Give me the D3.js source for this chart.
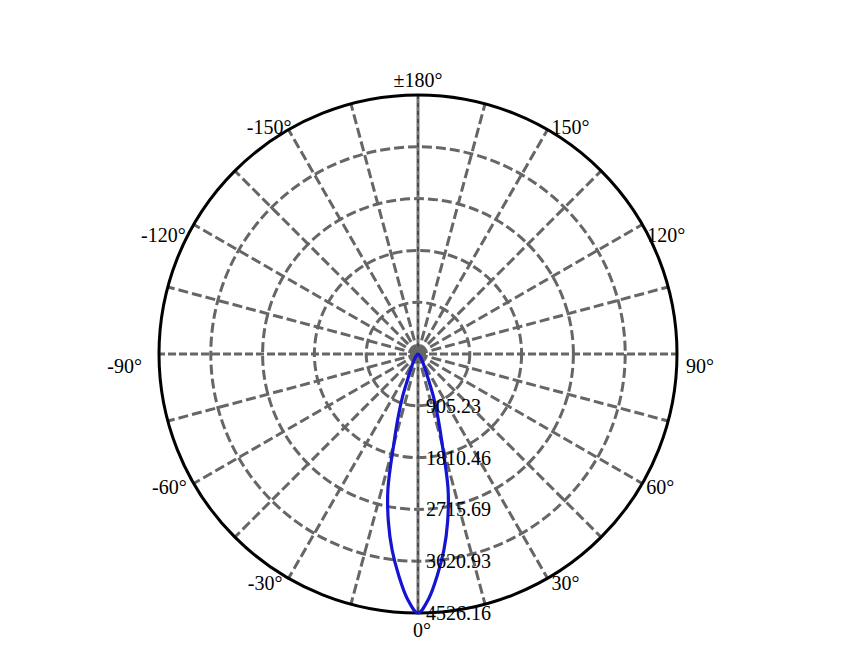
<!DOCTYPE html>
<html lang="en">
<head>
  <meta charset="utf-8">
  <title>Polar Intensity</title>
  <style>
    body { margin: 0; background: #fff; }
    svg text { font-family: "Liberation Serif", "DejaVu Serif", serif; font-size: 20px; fill: #000; }
  </style>
</head>
<body>
  <div id="chart"></div>
  <script src="https://d3js.org/d3.v7.min.js"></script>
  <script>
    // luminous intensity (cd), gamma angle in degrees (symmetric profile)
    var gammaAngles = [0, 2.5, 5, 7.5, 10, 12.5, 15, 17.5, 20, 22.5, 25, 30, 35, 40, 45, 50, 60, 70, 80, 90, 120, 150, 180];
    var intensity = [4526, 4280, 3880, 3460, 2980, 2430, 1640, 1150, 780, 450, 300, 170, 100, 60, 35, 20, 8, 4, 2, 0, 0, 0, 0];

    // radial ticks and angle labels
    var radialTicks = [905.23, 1810.46, 2715.69, 3620.93, 4526.16];
    var angleTicks = [-150, -120, -90, -60, -30, 0, 30, 60, 90, 120, 150, 180];
    var spokeStep = 15;

    var width = 850, height = 650;
    var cx = 418, cy = 354, R = 259;

    var svg = d3.select("#chart").append("svg")
      .attr("width", width)
      .attr("height", height);

    var g = svg.append("g").attr("transform", "translate(" + cx + "," + cy + ")");

    var rScale = d3.scaleLinear().domain([0, d3.max(radialTicks)]).range([0, R]);

    // gamma 0 points down, positive gamma to the right
    function toRad(a) { return Math.PI - a * Math.PI / 180; }
    function px(a, r) { return r * Math.sin(toRad(a)); }
    function py(a, r) { return -r * Math.cos(toRad(a)); }

    // dashed rings
    g.selectAll(".ring")
      .data(radialTicks.slice(0, -1))
      .enter().append("circle")
      .attr("class", "ring")
      .attr("r", d => rScale(d))
      .attr("fill", "none")
      .attr("stroke", "#666")
      .attr("stroke-width", 3)
      .attr("stroke-dasharray", "10,4");

    // spokes
    var spokes = d3.range(-180 + spokeStep, 180, spokeStep).filter(a => a !== 0);
    g.selectAll(".spoke")
      .data(spokes)
      .enter().append("line")
      .attr("class", "spoke")
      .attr("x1", 0).attr("y1", 0)
      .attr("x2", d => px(d, R))
      .attr("y2", d => py(d, R))
      .attr("stroke", "#666")
      .attr("stroke-width", 3)
      .attr("stroke-dasharray", d => Math.abs(d) === 90 ? "8,3" : "10,4");

    // vertical axis (0 / 180)
    g.append("line")
      .attr("x1", 0).attr("y1", -R).attr("x2", 0).attr("y2", R)
      .attr("stroke", "#777").attr("stroke-width", 3);
    g.append("line")
      .attr("x1", 0).attr("y1", -R).attr("x2", 0).attr("y2", R)
      .attr("stroke", "#222").attr("stroke-width", 1)
      .attr("stroke-dasharray", "4,4");

    // centre blob
    g.append("circle").attr("r", 7.5).attr("fill", "#666");

    // outer circle
    g.append("circle")
      .attr("r", R)
      .attr("fill", "none")
      .attr("stroke", "#000")
      .attr("stroke-width", 3);

    // intensity curve, mirrored to the negative side
    var pts = [];
    for (var i = gammaAngles.length - 1; i > 0; i--) pts.push([-gammaAngles[i], intensity[i]]);
    for (var j = 0; j < gammaAngles.length; j++) pts.push([gammaAngles[j], intensity[j]]);

    var line = d3.lineRadial()
      .angle(d => toRad(d[0]))
      .radius(d => rScale(d[1]))
      .curve(d3.curveCatmullRom.alpha(0.5));

    g.append("path")
      .attr("d", line(pts))
      .attr("fill", "none")
      .attr("stroke", "#1414d2")
      .attr("stroke-width", 3.2);

    // radial tick labels
    g.selectAll(".rlabel")
      .data(radialTicks)
      .enter().append("text")
      .attr("class", "rlabel")
      .attr("x", 8)
      .attr("y", d => rScale(d))
      .attr("dy", "0.35em")
      .text(d => d.toFixed(2));

    // angle labels: small nudges per angle so they sit like the original
    var labelDy = { 0: 17, 30: 5, 60: 3, 90: 12, 120: 10, 150: -3, 180: -15 };
    var labelDxRight = { 30: 4, 60: 4, 90: 9, 120: 5, 150: 4 };
    var labelDxLeft = { 30: -6, 60: -7, 90: -17, 120: -8, 150: 3 };

    g.selectAll(".alabel")
      .data(angleTicks)
      .enter().append("text")
      .attr("class", "alabel")
      .attr("x", function (d) {
        var a = Math.abs(d);
        if (a === 0) return px(d, R) + 4;
        if (a === 180) return px(d, R);
        return px(d, R) + (d > 0 ? labelDxRight[a] : labelDxLeft[a]);
      })
      .attr("y", d => py(d, R) + labelDy[Math.abs(d)])
      .attr("dy", "0.35em")
      .attr("text-anchor", function (d) {
        var a = Math.abs(d);
        return (a === 0 || a === 180) ? "middle" : (d > 0 ? "start" : "end");
      })
      .text(d => (d === 180 ? "\u00b1180" : d) + "\u00b0");
  </script>
</body>
</html>
